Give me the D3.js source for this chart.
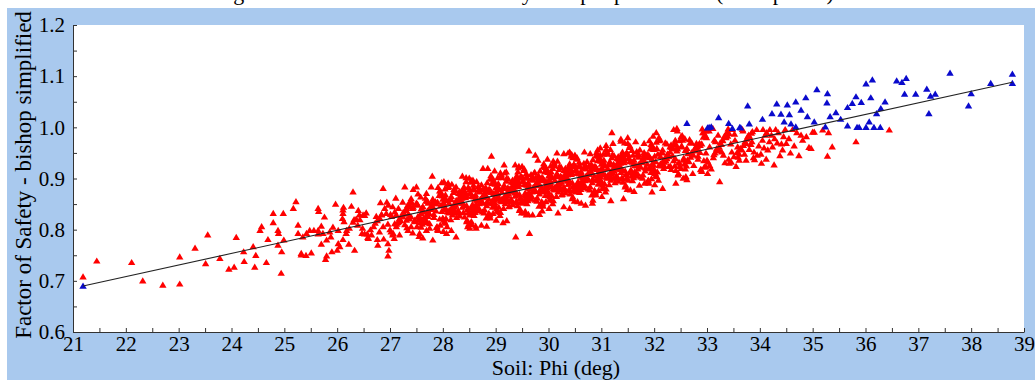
<!DOCTYPE html>
<html><head><meta charset="utf-8">
<script src="https://cdn.jsdelivr.net/npm/d3@7/dist/d3.min.js"></script>
<style>body{margin:0;background:#fff;}svg{display:block;}</style>
</head><body>
<svg id="c" width="1035" height="380"></svg>
<script>
const titleText = "Figure 6: Scatter of Factor of Safety vs input parameters (1000 points)";
const xLabel = "Soil: Phi (deg)";
const yLabel = "Factor of Safety - bishop simplified";
const xTicks = [21,22,23,24,25,26,27,28,29,30,31,32,33,34,35,36,37,38,39];
const yTicks = [0.6,0.7,0.8,0.9,1.0,1.1,1.2];

// red series: [Soil Phi (deg), Factor of Safety]
const redSparse = [[21.19,0.708],[21.45,0.739],[22.11,0.736],[22.32,0.700],[22.70,0.692],[23.02,0.694],[23.02,0.747],[23.31,0.764],[23.51,0.734],[23.55,0.790],[23.78,0.744],[23.95,0.723],[24.05,0.727],[24.09,0.785],[24.24,0.738],[24.23,0.757],[24.41,0.767],[24.44,0.727],[24.46,0.750],[24.66,0.736],[24.94,0.715],[24.54,0.799],[24.57,0.806],[24.69,0.781],[24.79,0.832],[24.79,0.814],[24.88,0.799],[24.89,0.793],[24.95,0.757],[24.98,0.832],[24.99,0.780],[24.88,0.770],[25.17,0.842],[25.22,0.855],[25.26,0.809],[25.26,0.793],[25.32,0.754],[25.41,0.750]];
const redMid = [[25.35,0.786],[25.42,0.793],[25.48,0.799],[25.56,0.799],[25.64,0.799],[25.32,0.751],[25.51,0.755],[25.64,0.842],[25.65,0.836],[25.70,0.807],[25.76,0.825],[25.64,0.792],[25.73,0.793],[25.86,0.796],[25.88,0.786],[25.80,0.780],[25.70,0.772],[25.80,0.749],[25.78,0.742],[25.90,0.757],[25.97,0.850],
[26.00,0.760],[26.11,0.781],[26.22,0.772],[26.33,0.760],[26.12,0.844],[26.11,0.832],[26.10,0.822],[26.13,0.816],[26.27,0.846],[26.30,0.874],[26.32,0.820],[26.43,0.820],[26.49,0.829],[26.55,0.833],[26.39,0.809],[26.48,0.803],[26.52,0.792],[26.58,0.785],[26.02,0.799],[25.92,0.805],[26.17,0.793],
[26.65,0.790],[26.76,0.781],[26.77,0.770],[26.80,0.796],[26.87,0.806],[26.96,0.811],[26.96,0.773],[26.98,0.760],[26.96,0.749],[26.82,0.853],[26.87,0.881],[26.74,0.826],[26.84,0.829],[26.93,0.832],[26.90,0.842],[27.03,0.826],[27.09,0.835],[27.12,0.806],[27.06,0.793],[27.17,0.816],[27.18,0.790],
[27.28,0.884],[27.50,0.884],[27.34,0.799],[27.40,0.806],[27.43,0.794],[27.47,0.819],[27.53,0.826],[27.59,0.832],[27.56,0.793],[27.69,0.871],[27.78,0.884],[27.80,0.905],[27.81,0.780],[27.31,0.842],[27.37,0.848],[27.43,0.842],[27.50,0.852],[27.62,0.845],[27.72,0.852],[27.24,0.826],[27.31,0.819],[27.37,0.826],[27.66,0.816],[27.72,0.826],[27.75,0.803],[27.69,0.799],
[28.02,0.894],[28.10,0.891],[28.25,0.884],[28.35,0.868],[28.44,0.894],[28.57,0.897],[28.64,0.894],[28.25,0.786],[28.16,0.799],[28.07,0.793],[27.91,0.799],[28.47,0.806],[28.54,0.816],[28.63,0.803],
[26.18,0.799],[26.42,0.829],[26.05,0.767],[26.30,0.815],[26.47,0.793],[26.11,0.839],[26.23,0.803],[26.36,0.821],[26.02,0.773],[26.40,0.838],
[26.81,0.822],[26.57,0.792],[26.94,0.854],[26.69,0.806],[26.52,0.828],[26.88,0.782],[26.76,0.818],[26.63,0.800],[26.97,0.848],[26.59,0.783],[26.84,0.830],[26.72,0.813],
[27.18,0.822],[27.42,0.852],[27.05,0.790],[27.30,0.838],[27.47,0.816],[27.11,0.862],[27.23,0.826],[27.36,0.844],[27.02,0.796],[27.40,0.861],[27.15,0.814],[27.27,0.831],[27.08,0.783],[27.44,0.879],[27.20,0.818],[27.33,0.847],[27.00,0.800],[27.38,0.855],[27.13,0.811],[27.25,0.834],
[27.44,0.844],[27.28,0.810],[27.12,0.829],[27.37,0.821],[27.05,0.845],[27.21,0.825],[27.47,0.818],[27.16,0.842],[27.32,0.804],[27.01,0.830],[27.40,0.825],[27.24,0.854],[27.09,0.812],[27.35,0.831]];
const redEdges = [[28.92,0.944],[29.63,0.954],[29.75,0.946],[29.80,0.936],[30.29,0.949],[30.40,0.952],[30.46,0.941],[30.68,0.952],[30.79,0.949],[30.93,0.956],[30.98,0.946],[31.03,0.933],[31.09,0.965],[31.20,0.990],[31.22,0.969],[31.37,0.977],[31.50,0.980],[31.65,0.972],[31.81,0.969],[32.04,0.990],[32.43,0.998],[32.51,0.982],[32.54,0.975],[32.82,0.962],[32.92,0.990],
[28.51,0.803],[28.73,0.809],[29.14,0.814],[29.21,0.818],[29.38,0.786],[29.64,0.793],[29.58,0.829],[29.70,0.829],[29.88,0.837],[30.18,0.833],[30.29,0.845],[30.40,0.842],[30.70,0.848],[30.84,0.858],[31.18,0.857],[31.42,0.861],[31.72,0.887],[31.96,0.874],[32.16,0.881],[32.41,0.891],[32.60,0.904],[32.73,0.910],[32.89,0.917],[32.98,0.923],[28.76,0.920],[28.85,0.920],[29.20,0.913],[29.42,0.913],[30.08,0.920]];
const redCore = [
[27.81,0.844],[27.57,0.814],[27.94,0.876],[27.69,0.828],[27.52,0.850],[27.88,0.804],[27.76,0.840],[27.63,0.822],[27.97,0.870],[27.59,0.805],[27.84,0.852],[27.72,0.835],[27.91,0.883],[27.55,0.787],[27.79,0.848],[27.66,0.819],[27.99,0.866],[27.61,0.811],[27.86,0.855],[27.74,0.832],[27.53,0.870],[27.95,0.809],[27.68,0.856],[27.83,0.830],[27.58,0.864],[27.90,0.800],[27.77,0.845],[27.64,0.820],[27.98,0.892],[27.51,0.806],[27.87,0.851],[27.71,0.837],[27.93,0.867],[27.62,0.784],[27.80,0.855],[27.56,0.826],[27.96,0.874],[27.67,0.814],[27.75,0.841],[27.89,0.806],
[28.18,0.845],[28.42,0.875],[28.05,0.813],[28.30,0.861],[28.47,0.839],[28.11,0.885],[28.23,0.849],[28.36,0.867],[28.02,0.819],[28.40,0.884],[28.15,0.837],[28.27,0.854],[28.08,0.806],[28.44,0.902],[28.20,0.841],[28.33,0.870],[28.00,0.823],[28.38,0.878],[28.13,0.834],[28.25,0.857],[28.46,0.819],[28.04,0.880],[28.31,0.833],[28.16,0.859],[28.41,0.825],[28.09,0.889],[28.22,0.844],[28.35,0.869],[28.01,0.797],[28.48,0.883],[28.12,0.838],[28.28,0.852],[28.06,0.822],[28.37,0.905],[28.19,0.834],[28.43,0.863],[28.03,0.815],[28.32,0.875],[28.24,0.848],[28.10,0.883],[28.39,0.834],[28.14,0.860],[28.45,0.816],[28.21,0.879],[28.07,0.839],[28.34,0.872],[28.26,0.824],[28.02,0.850],[28.49,0.811],[28.17,0.889],[28.29,0.838],[28.05,0.861],
[28.81,0.867],[28.57,0.837],[28.94,0.899],[28.69,0.851],[28.52,0.873],[28.88,0.827],[28.76,0.863],[28.63,0.845],[28.97,0.893],[28.59,0.828],[28.84,0.875],[28.72,0.858],[28.91,0.906],[28.55,0.810],[28.79,0.871],[28.66,0.842],[28.99,0.889],[28.61,0.834],[28.86,0.878],[28.74,0.855],[28.53,0.893],[28.95,0.832],[28.68,0.879],[28.83,0.853],[28.58,0.887],[28.90,0.823],[28.77,0.868],[28.64,0.843],[28.98,0.915],[28.51,0.829],[28.87,0.874],[28.71,0.860],[28.93,0.890],[28.62,0.807],[28.80,0.878],[28.56,0.849],[28.96,0.897],[28.67,0.837],[28.75,0.864],[28.89,0.829],[28.60,0.878],[28.85,0.852],[28.54,0.896],[28.78,0.833],[28.92,0.873],[28.65,0.840],[28.73,0.888],[28.97,0.862],[28.50,0.901],[28.82,0.823],[28.70,0.874],[28.94,0.851],[28.58,0.881],[28.87,0.832],[28.63,0.862],[28.76,0.852],[28.90,0.900],[28.53,0.833],[28.69,0.876],[28.83,0.807],
[29.18,0.867],[29.42,0.897],[29.05,0.835],[29.30,0.883],[29.47,0.861],[29.11,0.907],[29.23,0.871],[29.36,0.889],[29.02,0.841],[29.40,0.906],[29.15,0.859],[29.27,0.876],[29.08,0.828],[29.44,0.924],[29.20,0.863],[29.33,0.892],[29.00,0.845],[29.38,0.900],[29.13,0.856],[29.25,0.879],[29.46,0.841],[29.04,0.902],[29.31,0.855],[29.16,0.881],[29.41,0.847],[29.09,0.911],[29.22,0.866],[29.35,0.891],[29.01,0.819],[29.48,0.905],[29.12,0.860],[29.28,0.874],[29.06,0.844],[29.37,0.927],[29.19,0.856],[29.43,0.885],[29.03,0.837],[29.32,0.897],[29.24,0.870],[29.10,0.905],[29.39,0.856],[29.14,0.882],[29.45,0.838],[29.21,0.901],[29.07,0.861],[29.34,0.894],[29.26,0.846],[29.02,0.872],[29.49,0.833],[29.17,0.911],[29.29,0.860],[29.05,0.883],[29.41,0.853],[29.12,0.902],[29.36,0.872],[29.23,0.882],[29.09,0.834],[29.46,0.901],[29.30,0.858],[29.16,0.927],[29.38,0.866],[29.04,0.870],[29.25,0.845],[29.43,0.921],
[29.81,0.890],[29.57,0.860],[29.94,0.922],[29.69,0.874],[29.52,0.896],[29.88,0.850],[29.76,0.886],[29.63,0.868],[29.97,0.916],[29.59,0.851],[29.84,0.898],[29.72,0.881],[29.91,0.929],[29.55,0.833],[29.79,0.894],[29.66,0.865],[29.99,0.912],[29.61,0.857],[29.86,0.901],[29.74,0.878],[29.53,0.916],[29.95,0.855],[29.68,0.902],[29.83,0.876],[29.58,0.910],[29.90,0.846],[29.77,0.891],[29.64,0.866],[29.98,0.938],[29.51,0.852],[29.87,0.897],[29.71,0.883],[29.93,0.913],[29.62,0.830],[29.80,0.901],[29.56,0.872],[29.96,0.920],[29.67,0.860],[29.75,0.887],[29.89,0.852],[29.60,0.901],[29.85,0.875],[29.54,0.919],[29.78,0.856],[29.92,0.896],[29.65,0.863],[29.73,0.911],[29.97,0.885],[29.50,0.924],[29.82,0.846],[29.70,0.897],[29.94,0.874],[29.58,0.904],[29.87,0.855],[29.63,0.885],[29.76,0.875],[29.90,0.923],[29.53,0.856],[29.69,0.899],[29.83,0.830],[29.61,0.891],[29.95,0.887],[29.74,0.912],[29.56,0.836],
[30.18,0.890],[30.42,0.920],[30.05,0.858],[30.30,0.906],[30.47,0.884],[30.11,0.930],[30.23,0.894],[30.36,0.912],[30.02,0.864],[30.40,0.929],[30.15,0.882],[30.27,0.899],[30.08,0.851],[30.44,0.947],[30.20,0.886],[30.33,0.915],[30.00,0.868],[30.38,0.923],[30.13,0.879],[30.25,0.902],[30.46,0.864],[30.04,0.925],[30.31,0.878],[30.16,0.904],[30.41,0.870],[30.09,0.934],[30.22,0.889],[30.35,0.914],[30.01,0.842],[30.48,0.928],[30.12,0.883],[30.28,0.897],[30.06,0.867],[30.37,0.950],[30.19,0.879],[30.43,0.908],[30.03,0.860],[30.32,0.920],[30.24,0.893],[30.10,0.928],[30.39,0.879],[30.14,0.905],[30.45,0.861],[30.21,0.924],[30.07,0.884],[30.34,0.917],[30.26,0.869],[30.02,0.895],[30.49,0.856],[30.17,0.934],[30.29,0.883],[30.05,0.906],[30.41,0.876],[30.12,0.925],[30.36,0.895],[30.23,0.905],[30.09,0.857],[30.46,0.924],[30.30,0.881],[30.16,0.950],[30.38,0.889],[30.04,0.893],[30.25,0.868],[30.43,0.944],
[30.81,0.912],[30.57,0.882],[30.94,0.944],[30.69,0.896],[30.52,0.918],[30.88,0.872],[30.76,0.908],[30.63,0.890],[30.97,0.938],[30.59,0.873],[30.84,0.920],[30.72,0.903],[30.91,0.951],[30.55,0.855],[30.79,0.916],[30.66,0.887],[30.99,0.934],[30.61,0.879],[30.86,0.923],[30.74,0.900],[30.53,0.938],[30.95,0.877],[30.68,0.924],[30.83,0.898],[30.58,0.932],[30.90,0.868],[30.77,0.913],[30.64,0.888],[30.98,0.960],[30.51,0.874],[30.87,0.919],[30.71,0.905],[30.93,0.935],[30.62,0.852],[30.80,0.923],[30.56,0.894],[30.96,0.942],[30.67,0.882],[30.75,0.909],[30.89,0.874],[30.60,0.923],[30.85,0.897],[30.54,0.941],[30.78,0.878],[30.92,0.918],[30.65,0.885],[30.73,0.933],[30.97,0.907],[30.50,0.946],[30.82,0.868],[30.70,0.919],[30.94,0.896],[30.58,0.926],[30.87,0.877],[30.63,0.907],[30.76,0.897],[30.90,0.945],[30.53,0.878],[30.69,0.921],[30.83,0.852],[30.61,0.913],[30.95,0.909],
[31.18,0.913],[31.42,0.943],[31.05,0.881],[31.30,0.929],[31.47,0.907],[31.11,0.953],[31.23,0.917],[31.36,0.935],[31.02,0.887],[31.40,0.952],[31.15,0.905],[31.27,0.922],[31.08,0.874],[31.44,0.970],[31.20,0.909],[31.33,0.938],[31.00,0.891],[31.38,0.946],[31.13,0.902],[31.25,0.925],[31.46,0.887],[31.04,0.948],[31.31,0.901],[31.16,0.927],[31.41,0.893],[31.09,0.957],[31.22,0.912],[31.35,0.937],[31.01,0.865],[31.48,0.951],[31.12,0.906],[31.28,0.920],[31.06,0.890],[31.37,0.973],[31.19,0.902],[31.43,0.931],[31.03,0.883],[31.32,0.943],[31.24,0.916],[31.10,0.951],[31.39,0.902],[31.14,0.928],[31.45,0.884],[31.21,0.947],[31.07,0.907],[31.34,0.940],[31.26,0.892],[31.02,0.918],[31.49,0.879],[31.17,0.957],[31.29,0.906],[31.05,0.929],[31.41,0.899],[31.12,0.948],[31.36,0.918],[31.23,0.928],[31.09,0.880],[31.46,0.947],
[31.81,0.935],[31.57,0.905],[31.94,0.967],[31.69,0.919],[31.52,0.941],[31.88,0.895],[31.76,0.931],[31.63,0.913],[31.97,0.961],[31.59,0.896],[31.84,0.943],[31.72,0.926],[31.91,0.974],[31.55,0.878],[31.79,0.939],[31.66,0.910],[31.99,0.957],[31.61,0.902],[31.86,0.946],[31.74,0.923],[31.53,0.961],[31.95,0.900],[31.68,0.947],[31.83,0.921],[31.58,0.955],[31.90,0.891],[31.77,0.936],[31.64,0.911],[31.98,0.983],[31.51,0.897],[31.87,0.942],[31.71,0.928],[31.93,0.958],[31.62,0.875],[31.80,0.946],[31.56,0.917],[31.96,0.965],[31.67,0.905],[31.75,0.932],[31.89,0.897],[31.60,0.946],[31.85,0.920],[31.54,0.964],[31.78,0.901],[31.92,0.941],[31.65,0.908],[31.73,0.956],[31.97,0.930],[31.50,0.969],[31.82,0.891],[31.70,0.942],[31.94,0.919],
[32.18,0.936],[32.42,0.966],[32.05,0.904],[32.30,0.952],[32.47,0.930],[32.11,0.976],[32.23,0.940],[32.36,0.958],[32.02,0.910],[32.40,0.975],[32.15,0.928],[32.27,0.945],[32.08,0.897],[32.44,0.993],[32.20,0.932],[32.33,0.961],[32.00,0.914],[32.38,0.969],[32.13,0.925],[32.25,0.948],[32.46,0.910],[32.04,0.971],[32.31,0.924],[32.16,0.950],[32.41,0.916],[32.09,0.980],[32.22,0.935],[32.35,0.960],[32.01,0.888],[32.48,0.974],[32.12,0.929],[32.28,0.943],[32.06,0.913],[32.37,0.996],[32.19,0.925],[32.43,0.954],[32.03,0.906],[32.32,0.966],[32.24,0.939],[32.10,0.974],[32.39,0.925],[32.14,0.951],[32.45,0.907],[32.21,0.970],
[32.81,0.958],[32.57,0.928],[32.94,0.990],[32.69,0.942],[32.52,0.964],[32.88,0.918],[32.76,0.954],[32.63,0.936],[32.97,0.984],[32.59,0.919],[32.84,0.966],[32.72,0.949],[32.91,0.997],[32.55,0.901],[32.79,0.962],[32.66,0.933],[32.99,0.980],[32.61,0.925],[32.86,0.969],[32.74,0.946],[32.53,0.984],[32.95,0.923],[32.68,0.970],[32.83,0.944],[32.58,0.978],[32.90,0.914],[32.77,0.959],[32.64,0.934],[32.98,0.993],[32.51,0.920],[32.87,0.965],[32.71,0.951],[32.93,0.981],[32.62,0.898],[32.80,0.969],[32.56,0.940]];
const redDense = [
[27.55,0.822],[27.71,0.856],[27.87,0.837],[27.62,0.845],[27.94,0.821],[27.78,0.841],[27.52,0.848],[27.83,0.824],[27.67,0.862],[27.98,0.836],[27.59,0.841],[27.75,0.812],[27.90,0.854],[27.64,0.835],[27.81,0.860],[27.56,0.820],[27.96,0.847],[27.69,0.818],[27.85,0.851],[27.73,0.832],
[28.44,0.867],[28.28,0.833],[28.12,0.852],[28.37,0.844],[28.05,0.868],[28.21,0.848],[28.47,0.841],[28.16,0.865],[28.32,0.827],[28.01,0.853],[28.40,0.848],[28.24,0.877],[28.09,0.835],[28.35,0.854],[28.18,0.829],[28.43,0.869],[28.03,0.842],[28.30,0.871],[28.14,0.838],[28.26,0.857],[28.48,0.833],[28.07,0.857],[28.38,0.852],[28.20,0.873],[28.11,0.833],[28.33,0.855],[28.45,0.847],[28.00,0.860],[28.23,0.833],[28.36,0.862],[28.15,0.820],[28.41,0.874],
[28.55,0.845],[28.71,0.879],[28.87,0.860],[28.62,0.868],[28.94,0.844],[28.78,0.864],[28.52,0.871],[28.83,0.847],[28.67,0.885],[28.98,0.859],[28.59,0.864],[28.75,0.835],[28.90,0.877],[28.64,0.858],[28.81,0.883],[28.56,0.843],[28.96,0.870],[28.69,0.841],[28.85,0.874],[28.73,0.855],[28.51,0.879],[28.92,0.855],[28.61,0.860],[28.79,0.839],[28.88,0.879],[28.66,0.857],[28.54,0.865],[28.99,0.852],[28.76,0.879],[28.63,0.850],[28.84,0.892],[28.58,0.838],
[29.44,0.889],[29.28,0.855],[29.12,0.874],[29.37,0.866],[29.05,0.890],[29.21,0.870],[29.47,0.863],[29.16,0.887],[29.32,0.849],[29.01,0.875],[29.40,0.870],[29.24,0.899],[29.09,0.857],[29.35,0.876],[29.18,0.851],[29.43,0.891],[29.03,0.864],[29.30,0.893],[29.14,0.860],[29.26,0.879],[29.48,0.855],[29.07,0.879],[29.38,0.874],[29.20,0.895],[29.11,0.855],[29.33,0.877],[29.45,0.869],[29.00,0.882],[29.23,0.855],[29.36,0.884],[29.15,0.842],[29.41,0.896],
[29.55,0.868],[29.71,0.902],[29.87,0.883],[29.62,0.891],[29.94,0.867],[29.78,0.887],[29.52,0.894],[29.83,0.870],[29.67,0.908],[29.98,0.882],[29.59,0.887],[29.75,0.858],[29.90,0.900],[29.64,0.881],[29.81,0.906],[29.56,0.866],[29.96,0.893],[29.69,0.864],[29.85,0.897],[29.73,0.878],[29.51,0.902],[29.92,0.878],[29.61,0.883],[29.79,0.862],[29.88,0.902],[29.66,0.880],[29.54,0.888],[29.99,0.875],[29.76,0.902],[29.63,0.873],[29.84,0.915],[29.58,0.861],
[30.44,0.912],[30.28,0.878],[30.12,0.897],[30.37,0.889],[30.05,0.913],[30.21,0.893],[30.47,0.886],[30.16,0.910],[30.32,0.872],[30.01,0.898],[30.40,0.893],[30.24,0.922],[30.09,0.880],[30.35,0.899],[30.18,0.874],[30.43,0.914],[30.03,0.887],[30.30,0.916],[30.14,0.883],[30.26,0.902],[30.48,0.878],[30.07,0.902],[30.38,0.897],[30.20,0.918],[30.11,0.878],[30.33,0.900],[30.45,0.892],[30.00,0.905],[30.23,0.878],[30.36,0.907],[30.15,0.865],[30.41,0.919],
[30.55,0.890],[30.71,0.924],[30.87,0.905],[30.62,0.913],[30.94,0.889],[30.78,0.909],[30.52,0.916],[30.83,0.892],[30.67,0.930],[30.98,0.904],[30.59,0.909],[30.75,0.880],[30.90,0.922],[30.64,0.903],[30.81,0.928],[30.56,0.888],[30.96,0.915],[30.69,0.886],[30.85,0.919],[30.73,0.900],[30.51,0.924],[30.92,0.900],[30.61,0.905],[30.79,0.884],[30.88,0.924],[30.66,0.902],[30.54,0.910],[30.99,0.897],[30.76,0.924],[30.63,0.895],[30.84,0.937],[30.58,0.883],
[31.44,0.935],[31.28,0.901],[31.12,0.920],[31.37,0.912],[31.05,0.936],[31.21,0.916],[31.47,0.909],[31.16,0.933],[31.32,0.895],[31.01,0.921],[31.40,0.916],[31.24,0.945],[31.09,0.903],[31.35,0.922],[31.18,0.897],[31.43,0.937],[31.03,0.910],[31.30,0.939],[31.14,0.906],[31.26,0.925],[31.48,0.901],[31.07,0.925],[31.38,0.920],[31.20,0.941],[31.11,0.901],[31.33,0.923],[31.45,0.915],[31.00,0.928],[31.23,0.901],[31.36,0.930],[31.15,0.888],[31.41,0.942],
[31.55,0.913],[31.71,0.947],[31.87,0.928],[31.62,0.936],[31.94,0.912],[31.78,0.932],[31.52,0.939],[31.83,0.915],[31.67,0.953],[31.98,0.927],[31.59,0.932],[31.75,0.903],[31.90,0.945],[31.64,0.926],[31.81,0.951],[31.56,0.911],[31.96,0.938],[31.69,0.909],[31.85,0.942],[31.73,0.923],[31.51,0.947],[31.92,0.923],[31.61,0.928],[31.79,0.907],[31.88,0.947],[31.66,0.925],[31.54,0.933],[31.99,0.920],
[32.44,0.958],[32.28,0.924],[32.12,0.943],[32.37,0.935],[32.05,0.959],[32.21,0.939],[32.47,0.932],[32.16,0.956],[32.32,0.918],[32.01,0.944],[32.40,0.939],[32.24,0.968],[32.09,0.926],[32.35,0.945],[32.18,0.920],[32.43,0.960],[32.03,0.933],[32.30,0.962],[32.14,0.929],[32.26,0.948],[32.48,0.924],[32.07,0.948],
[32.55,0.936],[32.71,0.970],[32.87,0.951],[32.62,0.959],[32.94,0.935],[32.78,0.955],[32.52,0.962],[32.83,0.938],[32.67,0.976],[32.98,0.950],[32.59,0.955],[32.75,0.926],[32.90,0.968],[32.64,0.949]];
const redRight = [[33.18,0.958],[33.42,0.988],[33.05,0.926],[33.30,0.974],[33.47,0.952],[33.11,0.998],[33.23,0.962],[33.36,0.980],[33.02,0.932],[33.40,0.997],[33.15,0.950],[33.27,0.967],[33.08,0.919],[33.20,0.954],[33.33,0.983],[33.00,0.936],[33.38,0.991],[33.13,0.947],[33.25,0.970],[33.46,0.932],[33.04,0.993],[33.31,0.946],[33.16,0.972],[33.41,0.938],[33.22,0.957],[33.35,0.982],[33.01,0.910],[33.48,0.996],[33.24,0.894],[33.42,0.930],[33.14,0.975],[33.29,0.975],[33.39,0.983],
[33.81,0.981],[33.57,0.951],[33.69,0.965],[33.52,0.987],[33.88,0.941],[33.76,0.977],[33.63,0.959],[33.59,0.942],[33.84,0.989],[33.72,0.972],[33.55,0.924],[33.79,0.985],[33.66,0.956],[33.61,0.948],[33.86,0.992],[33.74,0.969],[33.95,0.946],[33.68,0.993],[33.83,0.967],[33.90,0.937],[33.77,0.982],[33.64,0.957],[33.51,0.943],[33.67,0.996],[33.94,0.996],[33.61,0.936],[33.74,0.936],[33.89,0.952],[33.80,0.957],
[33.05,0.962],[33.12,0.941],[33.21,0.985],[33.28,0.952],[33.34,0.931],[33.45,0.968],[33.53,0.975],[33.58,0.962],[33.71,0.948],[33.85,0.972],[33.98,0.964],[34.03,0.930],[34.13,0.990],[34.28,0.978],[34.50,0.969],
[34.06,0.996],[34.19,0.996],[34.30,0.996],[34.48,0.996],[34.15,0.956],[34.24,0.962],[34.43,0.956],[34.05,0.975],[34.12,0.938],[34.22,0.985],[34.33,0.970],[34.38,0.945],[34.08,0.960],[34.27,0.927],[34.45,0.982],[34.02,0.948],[34.35,0.990],[34.18,0.972],[34.41,0.968],[34.10,0.985],
[34.62,0.996],[34.65,0.964],[34.78,0.985],[34.81,0.975],[35.00,0.991],[34.97,0.959],[34.93,0.961],[34.55,0.978],[34.70,0.990],[34.58,0.950],[34.88,0.982],[34.74,0.945],
[35.03,0.991],[35.30,0.990],[35.37,0.962],[35.28,0.944],[35.19,0.995],[35.82,0.972],[36.45,0.995]];

// blue series
const bluePoints = [[21.19,0.690],[32.62,1.008],[33.01,0.999],[33.08,1.001],[33.04,1.000],[33.22,1.019],[33.41,1.008],[33.48,0.998],[33.64,0.999],[33.62,1.000],[33.77,1.042],[33.80,1.007],[34.05,1.016],[34.23,1.027],[34.32,1.046],[34.40,1.026],[34.52,1.044],[34.56,1.025],[34.46,1.011],[34.59,1.007],[34.68,1.050],[34.68,1.001],[34.78,1.034],[34.87,1.058],[34.90,1.021],[35.03,1.011],[35.08,1.074],[35.28,1.066],[35.27,1.048],[35.24,1.001],[35.33,1.021],[35.44,1.029],[35.53,1.016],[35.66,1.039],[35.66,1.003],[35.75,1.047],[35.82,1.060],[35.84,1.000],[35.88,1.000],[35.92,1.049],[36.01,1.085],[36.01,1.000],[36.07,1.011],[36.10,1.058],[36.13,1.093],[36.16,1.000],[36.28,1.000],[36.21,1.027],[36.29,1.037],[36.37,1.050],[36.59,1.091],[36.69,1.088],[36.77,1.096],[36.74,1.065],[36.95,1.065],[37.16,1.075],[37.20,1.027],[37.23,1.061],[37.32,1.065],[37.60,1.106],[37.95,1.042],[38.00,1.066],[38.37,1.086],[38.78,1.104],[38.78,1.086]];

const fitLine = [[21.19,0.690],[38.78,1.088]];

const redPoints = [].concat(redSparse, redMid, redEdges, redCore, redDense, redRight);

const W = 1035, H = 380;
const P = {l:73, r:1024, t:25, b:332};
const FONT = "'Liberation Serif','Times New Roman',serif";
const svg = d3.select("#c");

svg.append("text").attr("x",215).attr("y",0).style("font-family",FONT).attr("font-size",22).attr("fill","#000").text(titleText);
svg.append("rect").attr("x",7).attr("y",8).attr("width",W-7).attr("height",H-8).attr("fill","#a9c9ee");
svg.append("rect").attr("x",P.l).attr("y",P.t).attr("width",P.r-P.l).attr("height",P.b-P.t).attr("fill","#fff");

const x = d3.scaleLinear().domain([xTicks[0], xTicks[xTicks.length-1]]).range([P.l, P.r]);
const y = d3.scaleLinear().domain([yTicks[0], yTicks[yTicks.length-1]]).range([P.b, P.t]);

const xAll = d3.range(xTicks[0], xTicks[xTicks.length-1] + 0.01, 0.5);
const yAll = d3.range(0, 13).map(i => +(yTicks[0] + i*0.05).toFixed(2));

const gx = svg.append("g").attr("transform", `translate(0,${P.b})`)
  .call(d3.axisBottom(x).tickValues(xAll).tickSize(-4).tickSizeOuter(0).tickPadding(4)
    .tickFormat(d => Number.isInteger(d) ? String(d) : ""));
const gy = svg.append("g").attr("transform", `translate(${P.l},0)`)
  .call(d3.axisLeft(y).tickValues(yAll).tickSize(-4).tickSizeOuter(0).tickPadding(8)
    .tickFormat(d => (Math.abs(d*10 - Math.round(d*10)) < 1e-6) ? d.toFixed(1) : ""));
[gx, gy].forEach(g => {
  g.attr("font-family", null).attr("font-size", null);
  g.selectAll("text").style("font-family", FONT).style("font-size", "21px").attr("fill", "#000");
  g.selectAll("line").attr("stroke", "#333");
  g.select(".domain").attr("stroke", "#333");
});

const tri = "M0,-3.5L3.7,2.7L-3.7,2.7Z";
svg.append("g").selectAll("path").data(redPoints).join("path")
  .attr("d", tri).attr("transform", d => `translate(${x(d[0])},${y(d[1])})`).attr("fill", "#ff0000");
svg.append("g").selectAll("path").data(bluePoints).join("path")
  .attr("d", tri).attr("transform", d => `translate(${x(d[0])},${y(d[1])})`).attr("fill", "#0a0acc");

svg.append("path").datum(fitLine)
  .attr("d", d3.line().x(d => x(d[0])).y(d => y(d[1])))
  .attr("fill", "none").attr("stroke", "#222").attr("stroke-width", 1.1);

svg.append("text").attr("x", 556).attr("y", 375).attr("text-anchor", "middle")
  .style("font-family", FONT).attr("font-size", 22).attr("fill", "#000").text(xLabel);
svg.append("text").attr("transform", "translate(31,175) rotate(-90)").attr("text-anchor", "middle")
  .style("font-family", FONT).attr("font-size", 23).attr("fill", "#000").text(yLabel);
</script>
</body></html>
